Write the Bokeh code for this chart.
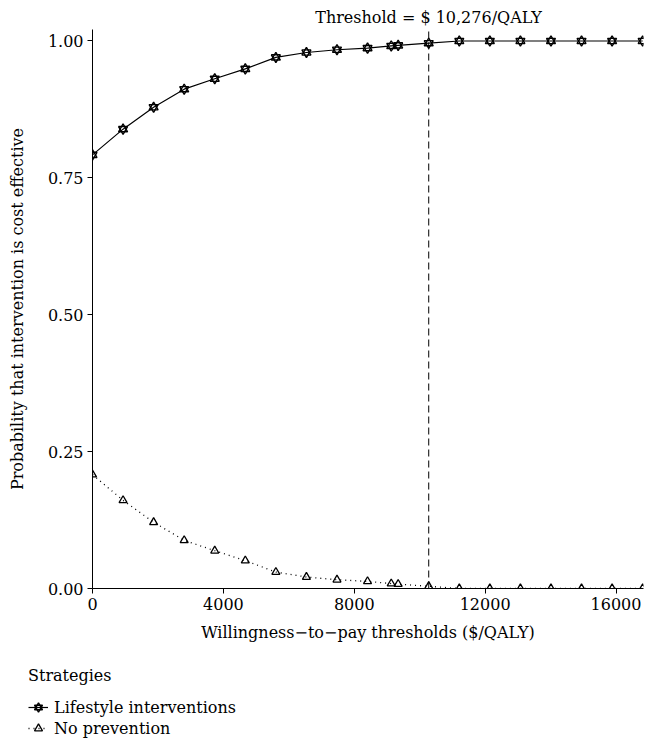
from bokeh.plotting import figure
from bokeh.layouts import column, row
from bokeh.models import Legend, LegendItem, FixedTicker, NumeralTickFormatter, Range1d
from bokeh.embed import file_html
from bokeh.resources import INLINE

# ---- data ----
wtp = [0, 934, 1868, 2802, 3736, 4670, 5604, 6538, 7472, 8406, 9130, 9342,
       10276, 11210, 12144, 13078, 14012, 14946, 15880, 16814]
lifestyle = [0.792, 0.839, 0.879, 0.912, 0.931, 0.949, 0.970, 0.979, 0.984, 0.987,
             0.991, 0.992, 0.996, 1.0, 1.0, 1.0, 1.0, 1.0, 1.0, 1.0]
no_prevention = [0.208, 0.161, 0.121, 0.088, 0.069, 0.051, 0.030, 0.021, 0.016, 0.013,
                 0.009, 0.008, 0.004, 0.0, 0.0, 0.0, 0.0, 0.0, 0.0, 0.0]
threshold = 10276
threshold_text = "Threshold = $ 10,276/QALY"
x_ticks = [0, 4000, 8000, 12000, 16000]
y_ticks = [0.0, 0.25, 0.50, 0.75, 1.00]
series_names = ["Lifestyle interventions", "No prevention"]
legend_title = "Strategies"

FONT = "DejaVu Serif"
FS = "16px"
X_END = 16840
Y_END = 1.021
FRAME_W = 551
TITLE_HALF_W = 113.5   # half the rendered width of the threshold text

p = figure(frame_width=FRAME_W, frame_height=559, output_backend="svg", toolbar_location=None,
           x_range=Range1d(0, X_END), y_range=Range1d(0, Y_END),
           min_border_left=92, min_border_right=2, min_border_top=29, min_border_bottom=60)
p.outline_line_color = None
p.grid.visible = False
p.background_fill_color = "white"

# threshold label, centred over the threshold line
p.title.text = threshold_text
p.title.align = "left"
p.title.offset = threshold / X_END * FRAME_W - TITLE_HALF_W
p.title.text_font = FONT
p.title.text_font_size = FS
p.title.text_font_style = "normal"
p.title.text_color = "black"
p.title.standoff = 6

# threshold line
p.segment(x0=[threshold], y0=[0], x1=[threshold], y1=[Y_END], line_color="black",
          line_dash="7 4", line_width=1)

line_kw1 = dict(line_color="black", line_width=1.2)
star_kw = dict(size=9, fill_color=None, line_color="black", line_width=1.4)
tri_kw = dict(size=8, fill_color=None, line_color="black", line_width=1.3)
line_kw2 = dict(line_color="black", line_width=1.3, line_dash="1 4")

p.line(wtp, lifestyle, **line_kw1)
p.scatter(wtp, lifestyle, marker="triangle", **star_kw)
p.scatter(wtp, lifestyle, marker="inverted_triangle", **star_kw)

p.line(wtp, no_prevention, **line_kw2)
p.scatter(wtp, no_prevention, marker="triangle", **tri_kw)

for ax in (p.xaxis[0], p.yaxis[0]):
    ax.major_label_text_font = FONT
    ax.major_label_text_font_size = FS
    ax.major_label_text_color = "black"
    ax.axis_label_text_font = FONT
    ax.axis_label_text_font_size = FS
    ax.axis_label_text_font_style = "normal"
    ax.axis_label_text_color = "black"
    ax.axis_line_color = "black"
    ax.major_tick_line_color = "black"
    ax.major_tick_in = 0
    ax.major_tick_out = 5
    ax.minor_tick_line_color = None

p.xaxis.ticker = FixedTicker(ticks=x_ticks)
p.yaxis.ticker = FixedTicker(ticks=y_ticks)
p.yaxis.formatter = NumeralTickFormatter(format="0.00")
p.xaxis.formatter = NumeralTickFormatter(format="0")
p.xaxis.axis_label = "Willingness\u2212to\u2212pay thresholds ($/QALY)"
p.yaxis.axis_label = "Probability that intervention is cost effective"
p.xaxis.major_label_standoff = 4
p.xaxis.axis_label_standoff = 10
p.yaxis.major_label_standoff = 4
p.yaxis.axis_label_standoff = 18

# ---- legend panel below the plot (its own canvas, data kept out of view) ----
lg = figure(width=645, height=98, output_backend="svg", toolbar_location=None,
            x_axis_type=None, y_axis_type=None, x_range=Range1d(-2, -1), y_range=Range1d(-2, -1),
            min_border=0)
lg.outline_line_color = None
lg.grid.visible = False
r1 = lg.line(wtp, lifestyle, **line_kw1)
r1a = lg.scatter(wtp, lifestyle, marker="triangle", **star_kw)
r1b = lg.scatter(wtp, lifestyle, marker="inverted_triangle", **star_kw)
r2 = lg.line(wtp, no_prevention, **line_kw2)
r2a = lg.scatter(wtp, no_prevention, marker="triangle", **tri_kw)

legend = Legend(items=[LegendItem(label=series_names[0], renderers=[r1, r1a, r1b]),
                       LegendItem(label=series_names[1], renderers=[r2, r2a])],
                title=legend_title, location=(28, 8), orientation="vertical",
                border_line_color=None, background_fill_alpha=0,
                label_text_font=FONT, label_text_font_size=FS, label_text_color="black",
                title_text_font=FONT, title_text_font_size=FS, title_text_font_style="normal",
                title_text_color="black",
                title_standoff=12, spacing=1, padding=0, margin=0,
                glyph_width=20, glyph_height=20, label_standoff=6, label_height=20)
lg.add_layout(legend, "center")

layout = column(p, row(lg), spacing=0)
open("out.html", "w").write(file_html(layout, INLINE))
